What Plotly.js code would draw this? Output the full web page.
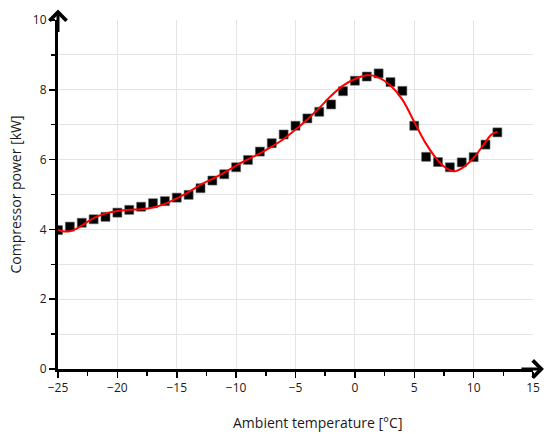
<!DOCTYPE html>
<html>
<head>
<meta charset="utf-8">
<script src="https://cdn.plot.ly/plotly-3.0.1.min.js"></script>
<style>html,body{margin:0;padding:0;background:#fff;}#chart{width:550px;height:434px;}</style>
</head>
<body>
<div id="chart"></div>
<script>
// Measured data points (squares)
const measTemp = [-25,-24,-23,-22,-21,-20,-19,-18,-17,-16,-15,-14,-13,-12,-11,-10,-9,-8,-7,-6,-5,-4,-3,-2,-1,0,1,2,3,4,5,6,7,8,9,10,11,12];
const measPower = [3.98,4.08,4.19,4.29,4.36,4.48,4.56,4.65,4.75,4.81,4.91,4.99,5.18,5.40,5.58,5.78,5.99,6.23,6.47,6.72,6.97,7.18,7.37,7.58,7.96,8.26,8.38,8.47,8.22,7.97,6.97,6.08,5.93,5.78,5.92,6.07,6.43,6.78];

// Fitted curve (red line)
const fitTemp = [-25,-24.5,-24,-23.5,-23,-22,-21,-20,-19,-18,-17,-16,-15,-14,-13,-12,-11,-10,-9,-8,-7,-6,-5,-4,-3,-2,-1,0,1,2,3,4,5,6,7,7.5,8,8.5,9,9.5,10,11,11.5,12];
const fitPower = [3.99,3.94,3.95,4.01,4.11,4.32,4.46,4.53,4.56,4.58,4.63,4.73,4.89,5.07,5.28,5.45,5.63,5.83,6.01,6.18,6.37,6.59,6.86,7.15,7.48,7.83,8.12,8.31,8.42,8.35,8.12,7.72,7.08,6.45,5.97,5.80,5.70,5.67,5.75,5.88,6.05,6.50,6.72,6.80];

const xTickVals = [-25,-20,-15,-10,-5,0,5,10,15];
const xTickText = ['\u221225','\u221220','\u221215','\u221210','\u22125','0','5','10','15'];
const yTickVals = [0,2,4,6,8,10];

const font = "'Open Sans', 'Liberation Sans', sans-serif";

const traces = [
  {
    x: measTemp, y: measPower, type: 'scatter', mode: 'markers',
    marker: {symbol: 'square', size: 9, color: '#000', line: {color: '#666', width: 0.6}},
    hoverinfo: 'x+y', showlegend: false
  },
  {
    x: fitTemp, y: fitPower, type: 'scatter', mode: 'lines',
    line: {color: '#ff0000', width: 2, shape: 'spline', smoothing: 1},
    hoverinfo: 'x+y', showlegend: false
  }
];

const layout = {
  width: 550, height: 434,
  margin: {l: 58, r: 17, t: 20, b: 65},
  paper_bgcolor: '#fff', plot_bgcolor: '#fff',
  font: {family: font, size: 12, color: '#1a1a1a'},
  showlegend: false,
  xaxis: {
    range: [-25, 15], tickvals: xTickVals, ticktext: xTickText,
    showgrid: true, gridcolor: '#e4e4e4', gridwidth: 1,
    zeroline: false, showline: true, linecolor: '#000', linewidth: 3,
    ticks: 'outside', ticklen: 6, tickwidth: 1.5, tickcolor: '#000',
    minor: {dtick: 2.5, tick0: -25, ticks: 'outside', ticklen: 4, tickwidth: 1.5, tickcolor: '#000', showgrid: false},
    tickfont: {size: 12, family: font, color: '#1a1a1a'},
    fixedrange: true
  },
  yaxis: {
    range: [0, 10], tickvals: yTickVals,
    showgrid: true, gridcolor: '#e4e4e4', gridwidth: 1,
    zeroline: false, showline: true, linecolor: '#000', linewidth: 3,
    ticks: 'outside', ticklen: 6, tickwidth: 1.5, tickcolor: '#000',
    minor: {dtick: 1, tick0: 0, ticks: 'outside', ticklen: 4, tickwidth: 1.5, tickcolor: '#000', showgrid: true, gridcolor: '#e4e4e4', gridwidth: 1},
    tickfont: {size: 12, family: font, color: '#1a1a1a'},
    title: {text: 'Compressor power [kW]', font: {size: 14, family: font, color: '#1a1a1a'}, standoff: 8},
    fixedrange: true
  },
  annotations: [
    {
      text: 'Ambient temperature [\u00b0C]', xref: 'paper', yref: 'paper',
      x: 0.5465, y: 0, yshift: -42, xanchor: 'center', yanchor: 'top',
      showarrow: false, font: {size: 14, family: font, color: '#1a1a1a'}
    },
    {
      text: '', xref: 'paper', yref: 'paper', x: 0, y: 1.03, ax: 0, ay: 24,
      showarrow: true, arrowhead: 4, arrowwidth: 3, arrowsize: 1.1, arrowcolor: '#000', standoff: 0
    },
    {
      text: '', xref: 'paper', yref: 'paper', x: 1.023, y: 0, ax: -24, ay: 0,
      showarrow: true, arrowhead: 4, arrowwidth: 3, arrowsize: 1.1, arrowcolor: '#000', standoff: 0
    }
  ]
};

Plotly.newPlot('chart', traces, layout, {displayModeBar: false, staticPlot: true});
</script>
</body>
</html>
